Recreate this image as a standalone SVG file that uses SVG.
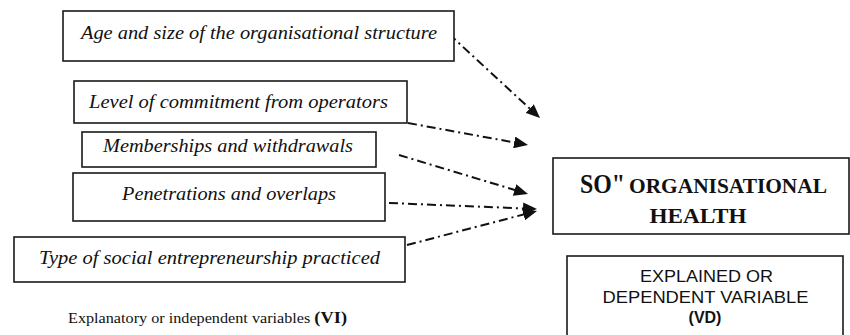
<svg xmlns="http://www.w3.org/2000/svg" width="850" height="335" viewBox="0 0 850 335">
<style>
.box{fill:#fff;stroke:#1a1a1a;stroke-width:1.6}
.it{font-family:"Liberation Serif","Times New Roman",serif;font-style:italic;font-size:19px;fill:#111;text-anchor:middle}
.ser{font-family:"Liberation Serif","Times New Roman",serif;fill:#111}
.sans{font-family:"Liberation Sans",Arial,sans-serif;font-size:16px;fill:#111;text-anchor:middle}
.con{fill:none;stroke:#111;stroke-width:2;stroke-dasharray:9 4 2 4}
</style>
<defs>
<marker id="ah" markerUnits="userSpaceOnUse" markerWidth="14" markerHeight="12" viewBox="0 0 14 12" refX="2" refY="6" orient="auto">
<path d="M0,0 L14,6 L0,12 z" fill="#111"/>
</marker>
</defs>
<rect x="0" y="0" width="850" height="335" fill="#fff"/>
<g id="connectors">
<line class="con" x1="449" y1="34" x2="531.2" y2="109.9" marker-end="url(#ah)"/>
<line class="con" x1="408" y1="123" x2="516.2" y2="142.8" marker-end="url(#ah)"/>
<line class="con" x1="399" y1="155" x2="516.5" y2="190.5" marker-end="url(#ah)"/>
<line class="con" x1="389" y1="203" x2="525" y2="208.5" marker-end="url(#ah)"/>
<line class="con" x1="407" y1="245" x2="525.4" y2="214" marker-end="url(#ah)"/>
</g>
<g id="n1">
<rect class="box" x="63" y="11" width="391" height="50"/>
<text class="it" x="259" y="39" textLength="356" lengthAdjust="spacingAndGlyphs">Age and size of the organisational structure</text>
</g>
<g id="n2">
<rect class="box" x="74" y="81" width="333" height="42"/>
<text class="it" x="238.5" y="108" textLength="299" lengthAdjust="spacingAndGlyphs">Level of commitment from operators</text>
</g>
<g id="n3">
<rect class="box" x="82" y="132" width="294" height="35"/>
<text class="it" x="228" y="152" textLength="250" lengthAdjust="spacingAndGlyphs">Memberships and withdrawals</text>
</g>
<g id="n4">
<rect class="box" x="73" y="173" width="312" height="48"/>
<text class="it" x="229" y="200" textLength="214" lengthAdjust="spacingAndGlyphs">Penetrations and overlaps</text>
</g>
<g id="n5">
<rect class="box" x="14" y="237" width="391" height="45"/>
<text class="it" x="209.5" y="264" textLength="341" lengthAdjust="spacingAndGlyphs">Type of social entrepreneurship practiced</text>
</g>
<g id="label-vi">
<text class="ser" x="68" y="323" font-size="15" textLength="279" lengthAdjust="spacingAndGlyphs">Explanatory or independent variables <tspan font-weight="bold" font-size="17">(VI)</tspan></text>
</g>
<g id="n-so">
<rect class="box" x="553" y="158" width="296" height="76"/>
<text class="ser" x="580" y="193" font-size="28" font-weight="bold" textLength="45" lengthAdjust="spacingAndGlyphs">SO"</text>
<text class="ser" x="629" y="193" font-size="21" font-weight="bold" textLength="198" lengthAdjust="spacingAndGlyphs">ORGANISATIONAL</text>
<text class="ser" x="698" y="223" font-size="21" font-weight="bold" text-anchor="middle" textLength="97" lengthAdjust="spacingAndGlyphs">HEALTH</text>
</g>
<g id="n-vd">
<rect class="box" x="567" y="256" width="276" height="100"/>
<text class="sans" x="706.5" y="282" textLength="133" lengthAdjust="spacingAndGlyphs">EXPLAINED OR</text>
<text class="sans" x="705.5" y="303" textLength="206" lengthAdjust="spacingAndGlyphs">DEPENDENT VARIABLE</text>
<text class="sans" x="705" y="323" font-weight="bold">(VD)</text>
</g>
</svg>
